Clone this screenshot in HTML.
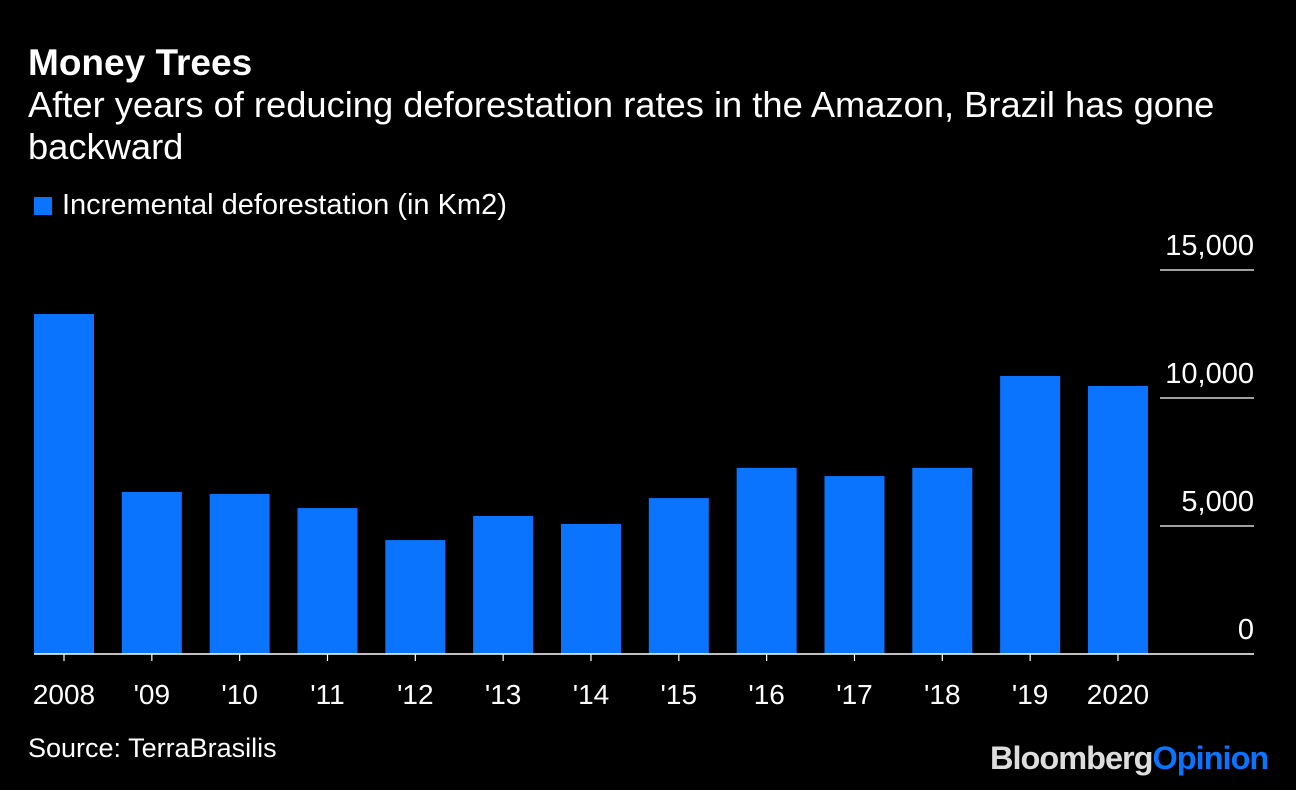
<!DOCTYPE html>
<html><head><meta charset="utf-8"><style>
body{margin:0;background:#000;width:1296px;height:790px;overflow:hidden;font-family:"Liberation Sans",Arial,sans-serif;color:#fff}
.t{position:absolute;white-space:nowrap}
</style></head><body>
<div class="t" style="left:28px;top:42px;font-size:37px;font-weight:bold">Money Trees</div>
<div class="t" style="left:28px;top:84px;font-size:36.3px;line-height:42px;white-space:normal;width:1230px">After years of reducing deforestation rates in the Amazon, Brazil has gone backward</div>
<div style="position:absolute;left:34px;top:197px;width:18px;height:18px;background:#0a74ff"></div>
<div class="t" style="left:62px;top:189px;font-size:29px">Incremental deforestation (in Km2)</div>
<div class="t" style="left:28px;top:733px;font-size:27px">Source: TerraBrasilis</div>
<div class="t" style="left:990px;top:740px;font-size:32.5px;font-weight:bold;letter-spacing:-1px"><span style="color:#ddd">Bloomberg</span><span style="color:#0a74ff">Opinion</span></div>
<svg id="chart" width="1296" height="790" style="position:absolute;left:0;top:0"></svg>
<script>
const categories=["2008","'09","'10","'11","'12","'13","'14","'15","'16","'17","'18","'19","2020"];
const values=[13280,6330,6250,5700,4450,5390,5080,6090,7270,6950,7270,10860,10470];
const yTicks=[0,5000,10000,15000];
const yTickLabels=["0","5,000","10,000","15,000"];
const svg=document.getElementById('chart');
const NS='http://www.w3.org/2000/svg';
const base=654,top15=270;
const y=v=>base-(v/15000)*(base-top15);
const x=i=>64+i*87.83;
function mk(t,a){const e=document.createElementNS(NS,t);for(const k in a)e.setAttribute(k,a[k]);svg.appendChild(e);return e;}
yTicks.forEach((v,i)=>{
  if(v>0){const l=mk('line',{x1:1160,x2:1254,y1:y(v),y2:y(v),stroke:'#fff','stroke-width':1.2});
  
  }
  const t=mk('text',{x:1254,y:y(v)-15,'text-anchor':'end','font-size':29,fill:'#fff','font-family':'Liberation Sans, sans-serif'});
  t.textContent=yTickLabels[i];
  
  
});
values.forEach((v,i)=>{
  const r=mk('rect',{x:x(i)-30,y:y(v),width:60,height:base-y(v),fill:'#0a74ff'});
  
  
  const tk=mk('line',{x1:x(i),x2:x(i),y1:base,y2:base+7,stroke:'#fff','stroke-width':1.2});
  
  
  const t=mk('text',{x:x(i),y:704,'text-anchor':'middle','font-size':28,fill:'#fff','font-family':'Liberation Sans, sans-serif'});
  t.textContent=categories[i];
  
  
});
const ax=mk('line',{x1:34,x2:1254,y1:base,y2:base,stroke:'#fff','stroke-width':1.5});


</script>
</body></html>
